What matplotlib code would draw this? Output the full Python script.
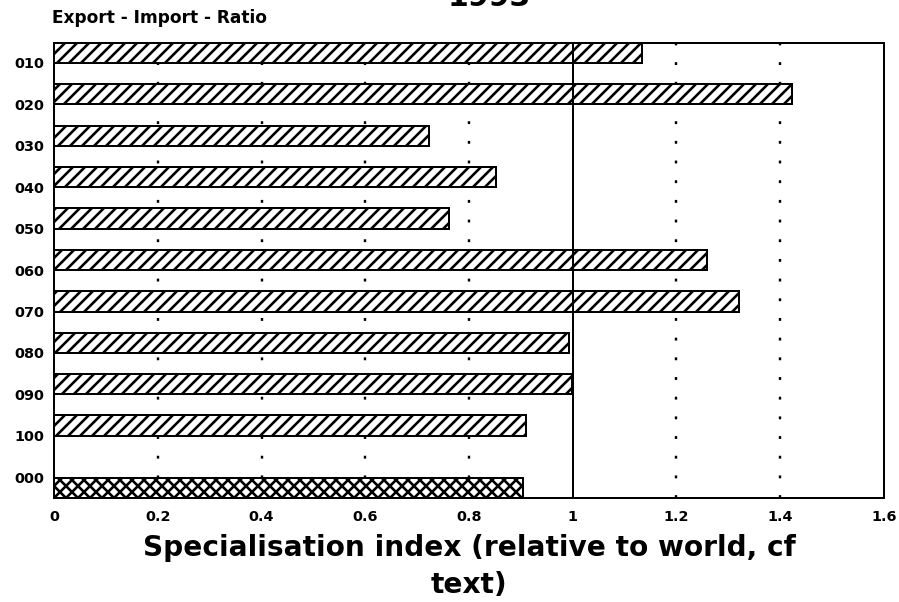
import matplotlib.pyplot as plt

# data
categories = ['010', '020', '030', '040', '050', '060', '070', '080', '090', '100', '000']
ratio = [1.133, 1.422, 0.722, 0.852, 0.762, 1.258, 1.320, 0.993, 0.999, 0.910, 0.904]
x_ticks = [0, 0.2, 0.4, 0.6, 0.8, 1.0, 1.2, 1.4, 1.6]
x_ticklabels = ['0', '0.2', '0.4', '0.6', '0.8', '1', '1.2', '1.4', '1.6']

DPI = 144
plt.rcParams['font.family'] = 'DejaVu Sans'
plt.rcParams['font.weight'] = 'bold'
plt.rcParams['hatch.linewidth'] = 1.3

fig = plt.figure(figsize=(899 / DPI, 602 / DPI), dpi=DPI)
ax = fig.add_axes([54 / 899, 1 - 498.3 / 602, 830 / 899, 455.6 / 602])

# bar slots: the first ten sit at the top of each slot, the total bar sits on the axis
n = len(categories)
bar_h = 0.49
tops = [float(i) for i in range(n - 1)] + [n - 0.5]
label_pos = [t + bar_h for t in tops[:-1]] + [tops[-1]]

for i in range(n):
    ax.barh(tops[i], ratio[i], height=bar_h if i < n - 1 else 0.5, align='edge',
            color='white', edgecolor='black', linewidth=1.0,
            hatch='xxxx' if categories[i] == '000' else '////', zorder=2)

# grid lines
for xv in x_ticks[1:-1]:
    if xv == 1.0:
        ax.axvline(xv, color='black', lw=1.0, zorder=3)
    else:
        ax.axvline(xv, color='black', lw=1.2, linestyle=(0, (1.2, 7)), zorder=1)

ax.set_xlim(0, 1.6)
ax.set_ylim(n, 0)
ax.set_xticks(x_ticks)
ax.set_xticklabels(x_ticklabels, fontsize=7.2)
ax.set_yticks(label_pos)
ax.set_yticklabels(categories, fontsize=7.2)
ax.tick_params(length=0)
ax.tick_params(axis='y', pad=5)
ax.tick_params(axis='x', pad=6)
for sp in ax.spines.values():
    sp.set_linewidth(1.0)

ax.set_xlabel('Specialisation index (relative to world, cf\ntext)', fontsize=14,
              fontweight='bold', linespacing=1.4, labelpad=5)

fig.text(52 / 899, 1 - 23 / 602, 'Export - Import - Ratio', fontsize=8.5,
         fontweight='bold', ha='left', va='baseline')
# the year title is cut by the top edge in the original scan
fig.text(489 / 899, 1 - 6 / 602, '1993', fontsize=15, fontweight='bold',
         ha='center', va='baseline')

fig.savefig('out.png', dpi=DPI)
